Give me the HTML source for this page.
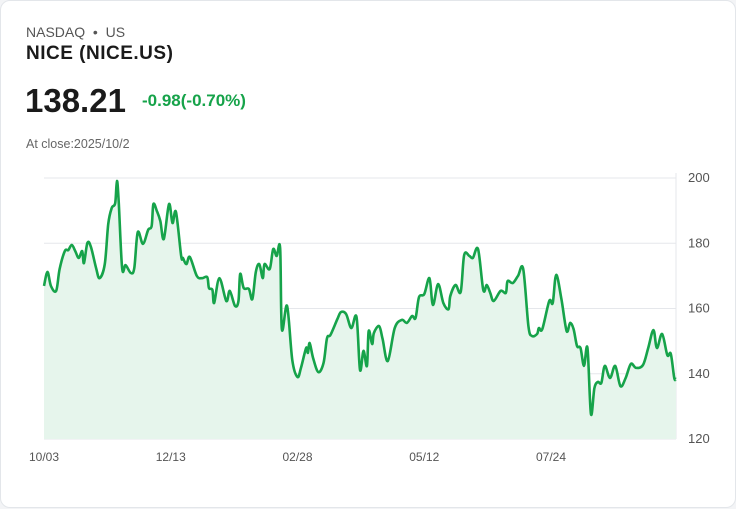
<!DOCTYPE html>
<html><head><meta charset="utf-8"><style>
body{margin:0;width:736px;height:508px;background:#f3f4f6;font-family:"Liberation Sans",sans-serif;overflow:hidden}
.card{position:absolute;left:0;top:0;width:734px;height:506px;border:1px solid #e3e6ea;border-radius:10px;background:#fff}
.t{position:absolute;white-space:nowrap}
</style></head><body>
<div class="card">
<div class="t" style="left:25px;top:23px;font-size:14px;color:#555">NASDAQ &nbsp;•&nbsp; US</div>
<div class="t" style="left:25px;top:42px;font-size:19px;letter-spacing:0.5px;font-weight:bold;color:#1a1a1a">NICE (NICE.US)</div>
<div class="t" style="left:24px;top:81px;font-size:33px;font-weight:bold;color:#1a1a1a">138.21</div>
<div class="t" style="left:141px;top:90px;font-size:17px;font-weight:bold;color:#16a34a">-0.98(-0.70%)</div>
<div class="t" style="left:25px;top:136px;font-size:12.5px;color:#666">At close:2025/10/2</div>
<svg id="chart" width="736" height="508" style="position:absolute;left:0;top:0"></svg>
</div>
<script>
const days=[0,2,4,7,9,12,14,16,18,20,22,23,25,27,30,32,35,37,39,41,42,43,45,47,50,52,54,57,60,62,63,65,67,69,72,74,76,79,80,82,84,88,91,94,95,97,98,101,105,107,110,112,113,115,118,120,122,124,126,127,130,132,134,136,137,140,143,146,148,151,152,153,155,158,161,163,165,169,171,174,177,180,182,184,186,187,189,190,193,195,198,202,206,209,212,214,216,219,222,224,227,230,233,234,237,240,242,245,247,250,253,255,257,259,263,266,267,270,273,276,279,281,284,285,287,291,293,295,298,301,303,305,307,309,311,313,315,317,319,321,323,326,329,332,335,338,341,345,348,351,353,356,359,361,363,364];
const prices=[166.9,171.2,166.9,165.4,172.1,177.6,177.9,179.5,177.6,175.5,177.6,173.9,180.1,178.9,172.4,169.3,173.6,185.9,190.8,192.3,199.1,193.0,172.4,173.3,170.9,172.4,183.4,179.8,184.1,185.3,192.0,189.9,186.8,181.3,192.0,186.2,189.6,176.1,175.5,173.6,175.8,170.0,169.3,169.6,166.3,165.7,161.7,169.3,162.3,165.4,160.8,162.3,170.6,166.3,166.0,162.9,171.2,173.6,169.3,173.6,172.1,178.2,176.1,178.5,153.7,160.8,144.2,139.0,141.8,147.9,146.4,149.4,144.8,140.5,143.3,150.9,151.9,156.8,158.9,158.3,154.0,157.4,141.2,147.0,142.4,153.1,149.1,152.5,154.6,150.7,143.9,154.0,156.5,155.6,157.7,157.1,163.5,164.4,169.3,161.1,167.5,161.7,159.8,163.8,167.2,165.1,176.4,176.1,175.5,178.2,165.7,167.2,164.8,162.3,165.4,164.8,168.4,167.8,170.0,172.1,154.6,151.6,152.2,154.0,153.7,162.3,161.7,170.3,162.9,153.1,155.6,153.7,148.5,147.9,142.4,147.9,127.7,135.6,137.5,137.2,142.4,138.7,142.4,136.2,138.7,143.0,141.8,142.7,147.9,153.4,147.9,152.2,145.7,146.1,138.7,138.4];
const yTicks=[120,140,160,180,200];
const xTickLabels=["10/03","12/13","02/28","05/12","07/24"];
const xTickDays=[0,73,146,219,292];
const X0=43,X1=675,Y0=438,Y1=177,DMAX=364,VMIN=120,VMAX=200;
const sx=d=>X0+(d/DMAX)*(X1-X0);
const sy=v=>Y0-(v-VMIN)/(VMAX-VMIN)*(Y0-Y1);
const svg=document.getElementById('chart');const NS='http://www.w3.org/2000/svg';
function mk(t,a){const e=document.createElementNS(NS,t);for(const k in a)e.setAttribute(k,a[k]);svg.appendChild(e);return e;}
yTicks.forEach(v=>{
 const l=mk('line',{x1:X0,x2:X1,y1:sy(v),y2:sy(v),stroke:'#e5e7eb','stroke-width':1});
 
 
 const t=mk('text',{x:687,y:sy(v)+4,'font-size':13,fill:'#555','font-family':'Liberation Sans, sans-serif'});
 t.textContent=v;
 
 
});
const vl=mk('line',{x1:X1,x2:X1,y1:Y1-5,y2:Y0,stroke:'#e5e7eb','stroke-width':1});


xTickLabels.forEach((s,i)=>{
 const t=mk('text',{x:sx(xTickDays[i]),y:460,'font-size':12,fill:'#555','text-anchor':'middle','font-family':'Liberation Sans, sans-serif'});
 t.textContent=s;
 
 
});
const pts=days.map((d,i)=>[sx(d),sy(prices[i])]);
let d='M'+pts[0][0]+','+pts[0][1];
for(let i=0;i<pts.length-1;i++){const p0=pts[i-1]||pts[i],p1=pts[i],p2=pts[i+1],p3=pts[i+2]||p2;const k=1/6;
 d+=` C${p1[0]+(p2[0]-p0[0])*k},${p1[1]+(p2[1]-p0[1])*k} ${p2[0]-(p3[0]-p1[0])*k},${p2[1]-(p3[1]-p1[1])*k} ${p2[0]},${p2[1]}`;}
const area=mk('path',{d:d+` L${pts[pts.length-1][0]},${Y0} L${pts[0][0]},${Y0} Z`,fill:'#e6f5ec'});


const line=mk('path',{d:d,fill:'none',stroke:'#16a34a','stroke-width':2.6,'stroke-linejoin':'round'});


</script>
</body></html>
